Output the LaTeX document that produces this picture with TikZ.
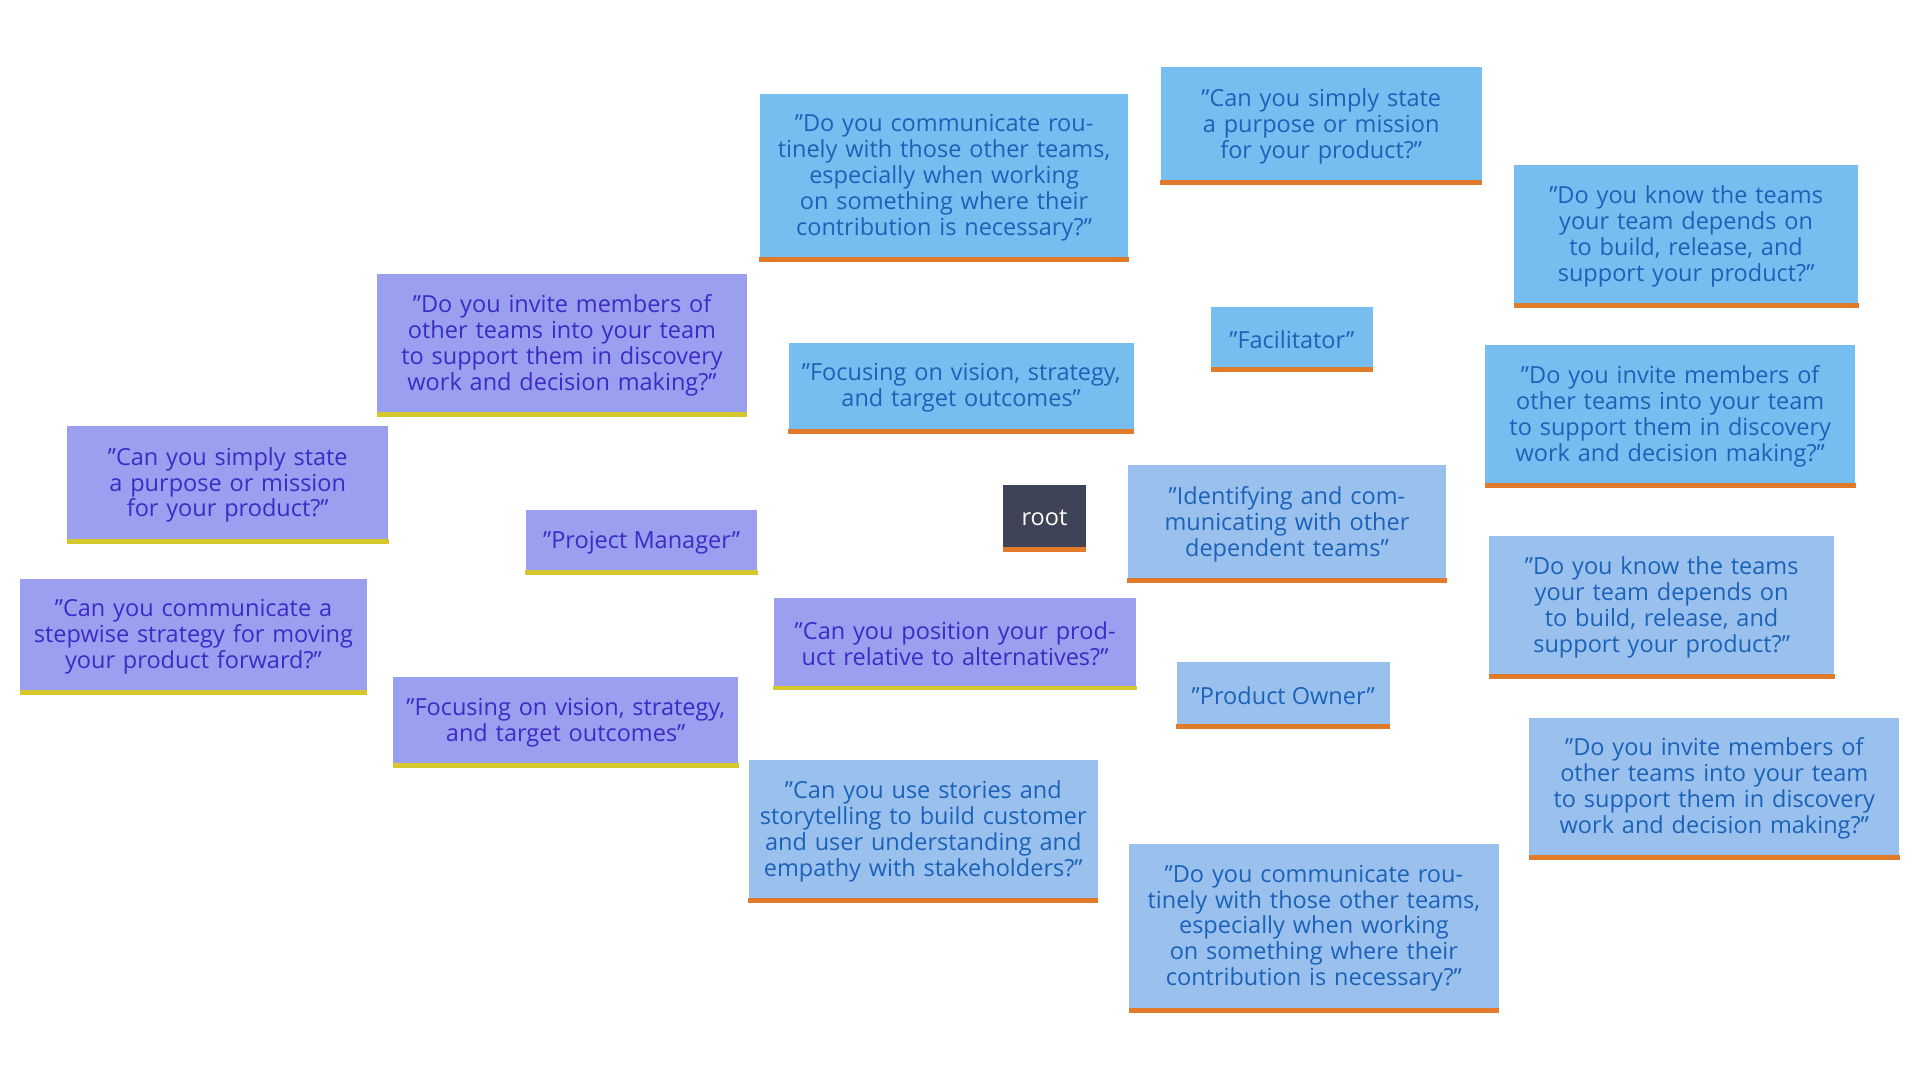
\documentclass[tikz,border=0pt]{standalone}
\usepackage{fontspec}
\setmainfont{Open Sans}
\usetikzlibrary{backgrounds}
\definecolor{fb}{HTML}{76BEF0}
\definecolor{pb}{HTML}{9AC1EE}
\definecolor{mb}{HTML}{9B9FF0}
\definecolor{bt}{HTML}{1B62B8}
\definecolor{mt}{HTML}{3A2CC4}
\definecolor{ob}{HTML}{E27A2C}
\definecolor{yb}{HTML}{D6C82C}
\definecolor{rt}{HTML}{3E4357}
\begin{document}
\begin{tikzpicture}[x=0.5pt,y=-0.5pt,
 base/.style={rectangle,inner sep=0pt,align=center,font=\fontsize{9.6}{10.6}\selectfont},
 fac/.style={base,fill=fb,text=bt},
 po/.style={base,fill=pb,text=bt},
 pm/.style={base,fill=mb,text=mt},
 fe/.style={draw=fb,line width=2pt},
 pe/.style={draw=pb,line width=2pt},
 me/.style={draw=mb,line width=2pt}]
\useasboundingbox[fill=white] (0,0) rectangle (1568,882);
\newcommand{\bx}[6]{\node[#1,minimum width=#4*0.5pt,minimum height=#5*0.5pt,text width=#4*0.5pt-14pt] (#6) at (#2,#3) {};}
\node[fac,minimum width=66pt,minimum height=26.5pt] (F) at (1055,277) {"Facilitator"};
\node[fac,minimum width=150.5pt,minimum height=68.5pt,text width=143pt] (F1) at (771,145) {"Do you communicate routinely with those other teams, especially when working on something where their contribution is necessary?"};
\node[fac,minimum width=131pt,minimum height=48pt,text width=120pt] (F2) at (1079,103) {"Can you simply state a purpose or mission for your product?"};
\node[fac,minimum width=140.5pt,minimum height=58pt,text width=132pt] (F3) at (1377,193) {"Do you know the teams your team depends on to build, release, and support your product?"};
\node[fac,minimum width=151pt,minimum height=58pt,text width=143pt] (F4) at (1364,340) {"Do you invite members of other teams into your team to support them in discovery work and decision making?"};
\node[fac,minimum width=141pt,minimum height=37pt,text width=135pt] (F5) at (785,317) {"Focusing on vision, strategy, and target outcomes"};
\node[po,minimum width=87pt,minimum height=27pt] (P) at (1048,568) {"Product Owner"};
\node[po,minimum width=130pt,minimum height=48pt,text width=122pt] (P1) at (1051,428) {"Identifying and communicating with other dependent teams"};
\node[po,minimum width=141pt,minimum height=58pt,text width=132pt] (P2) at (1357,496) {"Do you know the teams your team depends on to build, release, and support your product?"};
\node[po,minimum width=151pt,minimum height=58pt,text width=143pt] (P3) at (1400,644) {"Do you invite members of other teams into your team to support them in discovery work and decision making?"};
\node[po,minimum width=151pt,minimum height=68.5pt,text width=143pt] (P4) at (1073,758) {"Do you communicate routinely with those other teams, especially when working on something where their contribution is necessary?"};
\node[po,minimum width=142.5pt,minimum height=58pt,text width=134pt] (P5) at (754,679) {"Can you use stories and storytelling to build customer and user understanding and empathy with stakeholders?"};
\node[pm,minimum width=94.5pt,minimum height=26.5pt] (M) at (524,443) {"Project Manager"};
\node[pm,minimum width=151pt,minimum height=58pt,text width=143pt] (M1) at (459,282) {"Do you invite members of other teams into your team to support them in discovery work and decision making?"};
\node[pm,minimum width=131pt,minimum height=48pt,text width=122pt] (M2) at (186,396) {"Can you simply state a purpose or mission for your product?"};
\node[pm,minimum width=141.5pt,minimum height=47.5pt,text width=134pt] (M3) at (158,520) {"Can you communicate a stepwise strategy for moving your product forward?"};
\node[pm,minimum width=141pt,minimum height=37pt,text width=135pt] (M4) at (462,590) {"Focusing on vision, strategy, and target outcomes"};
\node[pm,minimum width=148pt,minimum height=37.5pt,text width=140pt] (M5) at (780,526) {"Can you position your product relative to alternatives?"};
\node[base,fill=rt,text=white,minimum width=33.5pt,minimum height=27pt] (R) at (853,423) {root};
\foreach \n in {F,F1,F2,F3,F4,F5,P,P1,P2,P3,P4,P5,R}
  \draw[ob,line width=2pt] ([yshift=1pt]\n.south west) -- ([yshift=1pt]\n.south east);
\foreach \n in {M,M1,M2,M3,M4,M5}
  \draw[yb,line width=2pt] ([yshift=1pt]\n.south west) -- ([yshift=1pt]\n.south east);
\begin{scope}[on background layer]
\draw[fe] (R) -- (F);
\foreach \n in {F1,F2,F3,F4,F5} \draw[fe] (F) -- (\n);
\draw[pe] (R) -- (P);
\foreach \n in {P1,P2,P3,P4,P5} \draw[pe] (P) -- (\n);
\draw[me] (R) -- (M);
\foreach \n in {M1,M2,M3,M4,M5} \draw[me] (M) -- (\n);
\end{scope}
\end{tikzpicture}
\end{document}
